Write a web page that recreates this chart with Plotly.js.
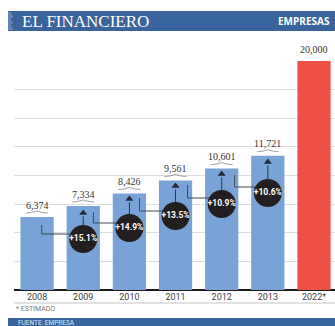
<!DOCTYPE html>
<html>
<head>
<meta charset="utf-8">
<script src="https://cdn.plot.ly/plotly-3.0.1.min.js"></script>
<style>html,body{margin:0;padding:0;background:#fff;overflow:hidden}#c{width:335px;height:326px}</style>
</head>
<body>
<div id="c"></div>
<script>
var years = ['2008','2009','2010','2011','2012','2013','2022*'];
var positions = [0,1,2,3,4,5,6];
var values = [6374,7334,8426,9561,10601,11721,20000];
var valueLabels = ['6,374','7,334','8,426','9,561','10,601','11,721','20,000'];
var barColors = ['#79a3d7','#79a3d7','#79a3d7','#79a3d7','#79a3d7','#79a3d7','#ee5048'];
var growthLabels = ['+15.1%','+14.9%','+13.5%','+10.9%','+10.6%'];
var growthX = [1,2,3,4,5];
var circleY = [4454,5415,6463,7511,8472];
var arrowTopY = [6725,7948,9083,10131,11179];
var elbowStartX = [0.10,1.22,2.22,3.26,4.28];
var elbowStartY = [5677,6812,8035,9170,10044];
var elbowY = [4891,5852,6900,8035,8996];

var elbowXs = [], elbowYs = [], arrowXs = [], arrowYs = [];
growthX.forEach(function(x,i){
  elbowXs.push(elbowStartX[i],elbowStartX[i],x,null);
  elbowYs.push(elbowStartY[i],elbowY[i],elbowY[i],null);
  arrowXs.push(x,x,null);
  arrowYs.push(circleY[i],arrowTopY[i]-300,null);
});

var traces = [
  {type:'bar',x:positions,y:values,width:0.72,marker:{color:barColors,line:{width:0}},hoverinfo:'skip'},
  {type:'scatter',mode:'lines',x:elbowXs,y:elbowYs,line:{color:'#3f4855',width:1},hoverinfo:'skip'},
  {type:'scatter',mode:'lines',x:arrowXs,y:arrowYs,line:{color:'#2c3440',width:1},hoverinfo:'skip'},
  {type:'scatter',mode:'markers',x:growthX,y:arrowTopY,marker:{symbol:'triangle-up',size:7,color:'#232a36'},hoverinfo:'skip'},
  {type:'scatter',mode:'markers+text',x:growthX,y:circleY,text:growthLabels,textposition:'middle center',
   textfont:{family:'Roboto,sans-serif',size:8.5,color:'#fff',weight:700},
   marker:{size:28,color:'#231f20'},hoverinfo:'skip'}
];

var annotations = positions.map(function(x,i){
  return {x:x,y:values[i],xref:'x',yref:'y',text:valueLabels[i],showarrow:false,yshift:12,
          font:{family:'"Liberation Serif",serif',size:10,color:'#333'}};
});
annotations.push(
  {xref:'paper',yref:'paper',x:0,y:1,text:'EL FINANCIERO',showarrow:false,xanchor:'left',yanchor:'middle',
   xshift:6,yshift:40,font:{family:'"Liberation Serif",serif',size:17,color:'#fff'}},
  {xref:'paper',yref:'paper',x:1,y:1,text:'<b>EMPRESAS</b>',showarrow:false,xanchor:'right',yanchor:'middle',
   xshift:-3,yshift:40,font:{family:'"Open Sans",sans-serif',size:10,color:'#fff'}},
  {xref:'paper',yref:'paper',x:0,y:0,text:'* ESTIMADO',showarrow:false,xanchor:'left',yanchor:'middle',
   xshift:0,yshift:-19,font:{family:'Roboto,sans-serif',size:7,color:'#777'}},
  {xref:'paper',yref:'paper',x:0,y:0,text:'FUENTE: EMPRESA',showarrow:false,xanchor:'left',yanchor:'middle',
   xshift:2,yshift:-33,font:{family:'Roboto,sans-serif',size:6.5,color:'#dfe8f3'}}
);

var shapes = [
  {type:'rect',xref:'paper',yref:'paper',xsizemode:'pixel',ysizemode:'pixel',xanchor:0,yanchor:1,
   x0:-6,x1:321,y0:30,y1:50,fillcolor:'#3a649c',line:{width:0},layer:'above'},
  {type:'rect',xref:'paper',yref:'paper',xsizemode:'pixel',ysizemode:'pixel',xanchor:0,yanchor:0,
   x0:-6,x1:321,y0:-28,y1:-36,fillcolor:'#3a649c',line:{width:0},layer:'above'},
  {type:'line',xref:'paper',yref:'paper',ysizemode:'pixel',yanchor:0,x0:0,x1:1,y0:-13,y1:-13,
   line:{color:'#d9d9d9',width:1.5},layer:'above'}
];
[32,34,36,38,40,42,44,46,48].forEach(function(p,i){
  shapes.push({type:'line',xref:'paper',yref:'paper',xsizemode:'pixel',ysizemode:'pixel',xanchor:0,yanchor:1,
    x0:-6,x1:-1-(i%3),y0:p,y1:p,line:{color:'rgba(255,255,255,0.55)',width:0.8},layer:'above'});
});
positions.forEach(function(x,i){
  shapes.push({type:'path',xref:'x',yref:'y',xsizemode:'pixel',ysizemode:'pixel',xanchor:x,yanchor:values[i],
    path:'M -11 4 Q -6 4 0 6 Q 6 4 11 4',line:{color:'#777',width:0.7},fillcolor:'rgba(0,0,0,0)',layer:'above'});
});

var layout = {
  width:335,height:326,
  margin:{l:14,r:0,t:61,b:36},
  paper_bgcolor:'#fff',plot_bgcolor:'#fff',
  showlegend:false,
  xaxis:{range:[-0.5,6.455],tickmode:'array',tickvals:positions,ticktext:years,ticks:'',showgrid:false,
         zeroline:false,showline:false,fixedrange:true,tickfont:{family:'Roboto,sans-serif',size:9,color:'#444'},ticklen:0},
  yaxis:{range:[0,20000],dtick:2500,showticklabels:false,ticks:'',showgrid:true,gridcolor:'#dedede',gridwidth:1,
         zeroline:true,zerolinecolor:'#1c1c1c',zerolinewidth:1.5,fixedrange:true},
  annotations:annotations,shapes:shapes
};
Plotly.newPlot('c',traces,layout,{staticPlot:true,displayModeBar:false});
</script>
</body>
</html>
